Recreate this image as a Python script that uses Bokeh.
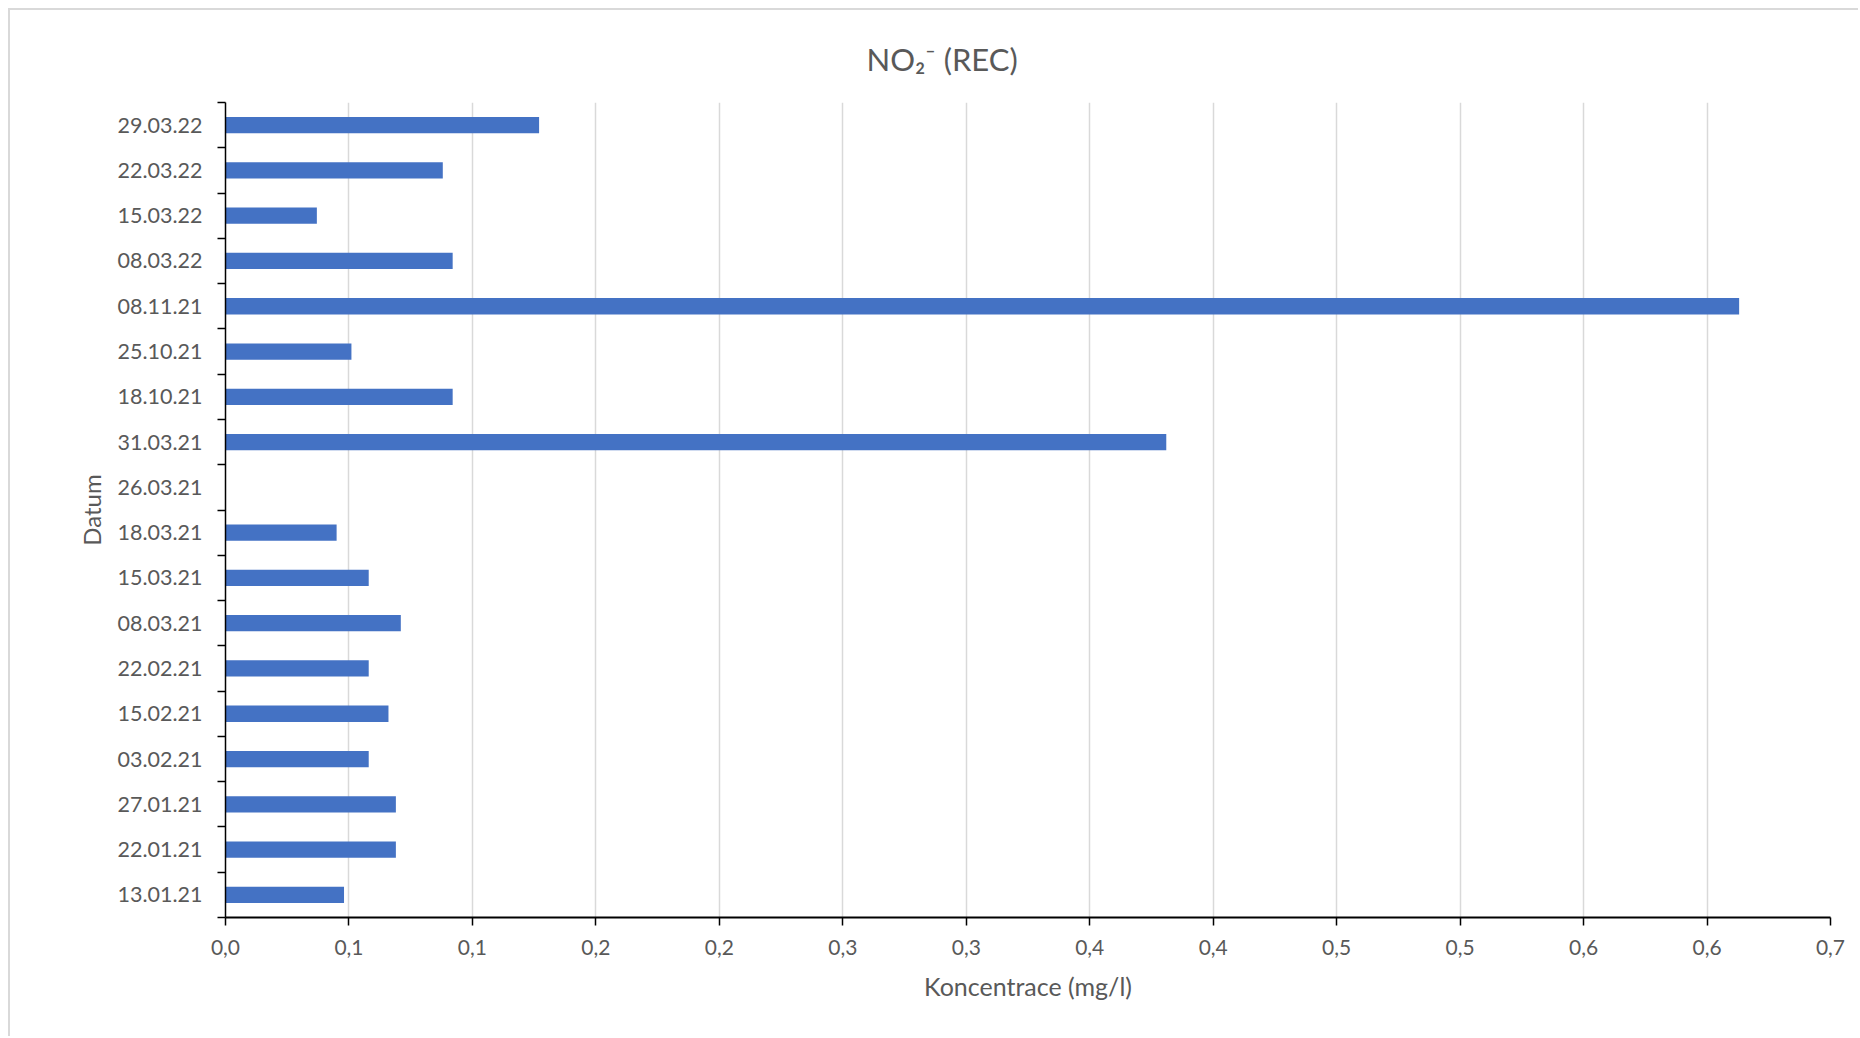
from bokeh.plotting import figure
from bokeh.models import Range1d, FixedTicker, ColumnDataSource, Title
from bokeh.embed import file_html
from bokeh.resources import INLINE

# ---- data (bottom to top, chronological) ----
dates = ["13.01.21", "22.01.21", "27.01.21", "03.02.21", "15.02.21", "22.02.21",
         "08.03.21", "15.03.21", "18.03.21", "26.03.21", "31.03.21", "18.10.21",
         "25.10.21", "08.11.21", "08.03.22", "15.03.22", "22.03.22", "29.03.22"]
no2 = [0.048, 0.069, 0.069, 0.058, 0.066, 0.058,
       0.071, 0.058, 0.045, None, 0.381, 0.092,
       0.051, 0.613, 0.092, 0.037, 0.088, 0.127]
x_ticks = [0.0, 0.05, 0.1, 0.15, 0.2, 0.25, 0.3, 0.35, 0.4, 0.45, 0.5, 0.55, 0.6, 0.65]
x_tick_labels = ["0,0", "0,1", "0,1", "0,2", "0,2", "0,3", "0,3",
                 "0,4", "0,4", "0,5", "0,5", "0,6", "0,6", "0,7"]
title_text = "NO\u2082\u207b (REC)"
x_title = "Koncentrace (mg/l)"
y_title = "Datum"

# ---- build ----
n = len(dates)
centers = [i + 0.5 for i in range(n)]
bounds = [float(i) for i in range(n + 1)]
ys = [c for c, v in zip(centers, no2) if v is not None]
xs = [v for v in no2 if v is not None]
src = ColumnDataSource(dict(y=ys, right=xs))

TEXT = "#595959"
FONT = "Lato"

p = figure(width=1850, height=1028, output_backend="svg", toolbar_location=None,
           x_range=Range1d(0, 0.65), y_range=Range1d(0, n),
           min_border_left=215, min_border_right=30, min_border_top=92, min_border_bottom=121,
           outline_line_color=None, background_fill_color="white", border_fill_color="white")
p.styles = {"margin-left": "8px", "margin-top": "8px",
            "border-top": "2px solid #d9d9d9", "border-left": "2px solid #d9d9d9"}

p.hbar(y="y", right="right", left=0, height=0.36, source=src,
       fill_color="#4472C4", line_color=None)

t = Title(text=title_text, align="left", offset=641, standoff=50,
          text_font=FONT, text_font_size="31px", text_font_style="normal", text_color=TEXT)
p.add_layout(t, "above")

# x axis
xa = p.xaxis[0]
xa.ticker = FixedTicker(ticks=x_ticks, minor_ticks=[])
xa.major_label_overrides = {tv: lab for tv, lab in zip(x_ticks, x_tick_labels)}
xa.axis_line_color = "black"
xa.axis_line_width = 2
xa.major_tick_line_color = "black"
xa.major_tick_line_width = 1.5
xa.major_tick_out = 8
xa.major_tick_in = 0
xa.minor_tick_line_color = None
xa.major_label_text_font = FONT
xa.major_label_text_font_size = "21px"
xa.major_label_text_color = TEXT
xa.major_label_standoff = 14
xa.axis_label = x_title
xa.axis_label_text_font = FONT
xa.axis_label_text_font_size = "25px"
xa.axis_label_text_font_style = "normal"
xa.axis_label_text_color = TEXT
xa.axis_label_standoff = 13

# y axis
ya = p.yaxis[0]
ya.ticker = FixedTicker(ticks=centers, minor_ticks=bounds)
ya.major_label_overrides = {c: d for c, d in zip(centers, dates)}
ya.axis_line_color = "black"
ya.axis_line_width = 1.5
ya.major_tick_line_color = None
ya.minor_tick_line_color = "black"
ya.minor_tick_line_width = 1.5
ya.minor_tick_out = 8
ya.minor_tick_in = 0
ya.major_label_text_font = FONT
ya.major_label_text_font_size = "21.5px"
ya.major_label_text_color = TEXT
ya.major_label_standoff = 15
ya.axis_label = y_title
ya.axis_label_text_font = FONT
ya.axis_label_text_font_size = "24px"
ya.axis_label_text_font_style = "normal"
ya.axis_label_text_color = TEXT
ya.axis_label_standoff = 9

p.xgrid.grid_line_color = "#d9d9d9"
p.xgrid.grid_line_width = 1.5
p.ygrid.grid_line_color = None

open("out.html", "w").write(file_html(p, INLINE))
